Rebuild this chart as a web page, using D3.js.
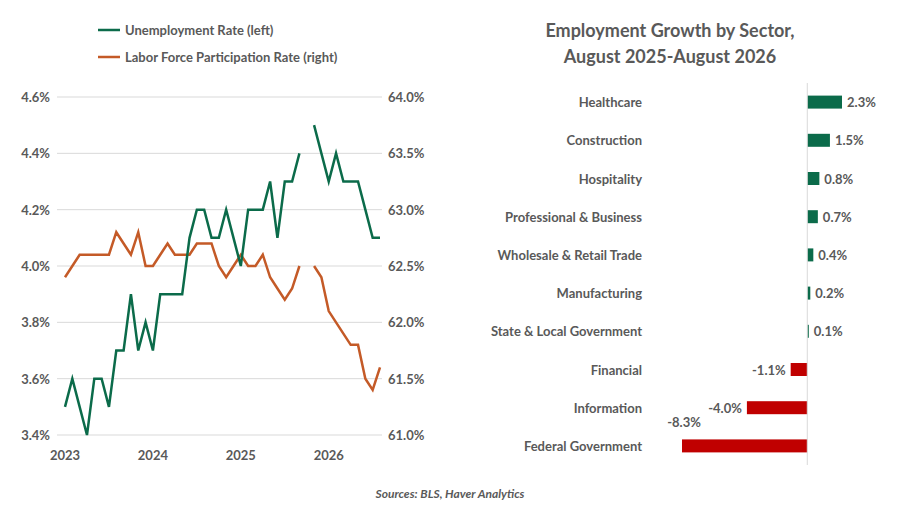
<!DOCTYPE html>
<html><head><meta charset="utf-8">
<script src="https://cdn.jsdelivr.net/npm/d3@7"></script>
<style>body{margin:0;background:#fff}text{font-family:Lato,"Liberation Sans",sans-serif}</style>
</head><body><svg width="903" height="523"></svg>
<script>
// monthly from Jan 2023; null = missing (Oct 2025)
const unemp = [3.5,3.6,3.5,3.4,3.6,3.6,3.5,3.7,3.7,3.9,3.7,3.8,
  3.7,3.9,3.9,3.9,3.9,4.1,4.2,4.2,4.1,4.1,4.2,4.1,
  4.0,4.2,4.2,4.2,4.3,4.1,4.3,4.3,4.4,null,4.5,4.4,
  4.3,4.4,4.3,4.3,4.3,4.2,4.1,4.1];
const lfpr = [62.4,62.5,62.6,62.6,62.6,62.6,62.6,62.8,62.7,62.6,62.8,62.5,
  62.5,62.6,62.7,62.6,62.6,62.6,62.7,62.7,62.7,62.5,62.4,62.5,
  62.6,62.5,62.5,62.6,62.4,62.3,62.2,62.3,62.5,null,62.5,62.4,
  62.1,62.0,61.9,61.8,61.8,61.5,61.4,61.6];
const yearLabels = ["2023","2024","2025","2026"];
const leftTicks = [3.4,3.6,3.8,4.0,4.2,4.4,4.6];
const rightTicks = [61.0,61.5,62.0,62.5,63.0,63.5,64.0];
const sectors = ["Healthcare","Construction","Hospitality","Professional & Business","Wholesale & Retail Trade","Manufacturing","State & Local Government","Financial","Information","Federal Government"];
const growth = [2.3,1.5,0.8,0.7,0.4,0.2,0.1,-1.1,-4.0,-8.3];

const svg = d3.select("svg");
const green = "#0b6b4a", orange = "#c45a27", red = "#c00000", grey = "#595959";

const x = d3.scaleLinear().domain([0, unemp.length - 1]).range([65, 380]);
const yL = d3.scaleLinear().domain([3.4, 4.6]).range([435, 97]);
const yR = d3.scaleLinear().domain([61.0, 64.0]).range([435, 97]);

svg.append("g").selectAll("line").data(leftTicks).join("line")
  .attr("x1", 57).attr("x2", 382).attr("y1", d => yL(d)).attr("y2", d => yL(d))
  .attr("stroke", "#d9d9d9");
svg.append("g").selectAll("text").data(leftTicks).join("text")
  .attr("x", 50).attr("y", d => yL(d) + 5).attr("text-anchor", "end")
  .attr("font-size", 13).attr("font-weight", "bold").attr("fill", grey)
  .text(d => d.toFixed(1) + "%");
svg.append("g").selectAll("text").data(rightTicks).join("text")
  .attr("x", 388).attr("y", d => yR(d) + 5)
  .attr("font-size", 13).attr("font-weight", "bold").attr("fill", grey)
  .text(d => d.toFixed(1) + "%");
svg.append("g").selectAll("text").data(yearLabels).join("text")
  .attr("x", (d, i) => x(i * 12)).attr("y", 460).attr("text-anchor", "middle")
  .attr("font-size", 13).attr("font-weight", "bold").attr("fill", grey).text(d => d);

const lineL = d3.line().defined(d => d != null).x((d, i) => x(i)).y(d => yL(d));
const lineR = d3.line().defined(d => d != null).x((d, i) => x(i)).y(d => yR(d));
svg.append("path").attr("d", lineR(lfpr)).attr("fill", "none").attr("stroke", orange).attr("stroke-width", 2.5);
svg.append("path").attr("d", lineL(unemp)).attr("fill", "none").attr("stroke", green).attr("stroke-width", 2.5);

[["Unemployment Rate (left)", green, 30], ["Labor Force Participation Rate (right)", orange, 57]].forEach(([t, c, yy]) => {
  svg.append("line").attr("x1", 98).attr("x2", 120).attr("y1", yy).attr("y2", yy).attr("stroke", c).attr("stroke-width", 2.5);
  svg.append("text").attr("x", 125).attr("y", yy + 5).attr("font-size", 13).attr("font-weight", "bold").attr("fill", grey).text(t);
});

// bar chart
const xb = d3.scaleLinear().domain([-8.3, 2.3]).range([682, 842]);
const yb = d3.scaleBand().domain(sectors).range([83, 465]).paddingInner(0.66).paddingOuter(0.33);
svg.append("text").attr("x", 670).attr("y", 37).attr("text-anchor", "middle").attr("font-size", 18).attr("font-weight", "bold").attr("fill", grey).text("Employment Growth by Sector,");
svg.append("text").attr("x", 670).attr("y", 63).attr("text-anchor", "middle").attr("font-size", 18).attr("font-weight", "bold").attr("fill", grey).text("August 2025-August 2026");
svg.append("g").selectAll("rect").data(growth).join("rect")
  .attr("x", d => xb(Math.min(0, d))).attr("width", d => Math.abs(xb(d) - xb(0)))
  .attr("y", (d, i) => yb(sectors[i])).attr("height", yb.bandwidth())
  .attr("fill", d => d < 0 ? red : green);
svg.append("line").attr("x1", xb(0)).attr("x2", xb(0)).attr("y1", 83).attr("y2", 465).attr("stroke", "#d9d9d9");
svg.append("g").selectAll("text").data(sectors).join("text")
  .attr("x", 642).attr("y", d => yb(d) + yb.bandwidth() / 2 + 5).attr("text-anchor", "end")
  .attr("font-size", 13).attr("font-weight", "bold").attr("fill", grey).text(d => d);
svg.append("g").selectAll("text").data(growth).join("text")
  .attr("x", d => d >= 0 ? xb(d) + 5 : (xb(d) < 700 ? xb(d) + 2 : xb(d) - 5))
  .attr("y", (d, i) => yb(sectors[i]) + yb.bandwidth() / 2 + 5 - (d < 0 && xb(d) < 700 ? 24 : 0))
  .attr("text-anchor", d => d >= 0 ? "start" : (xb(d) < 700 ? "middle" : "end"))
  .attr("font-size", 13).attr("font-weight", "bold").attr("fill", grey)
  .text(d => d.toFixed(1) + "%");

svg.append("text").attr("x", 450).attr("y", 498).attr("text-anchor", "middle").attr("font-size", 12)
  .attr("font-style", "italic").attr("font-weight", "bold").attr("fill", grey).text("Sources: BLS, Haver Analytics");
</script></body></html>
